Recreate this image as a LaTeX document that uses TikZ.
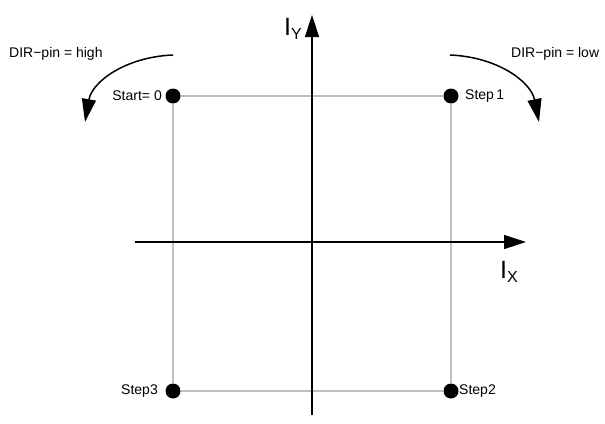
\documentclass[tikz,border=0pt]{standalone}
\usepackage{fontspec}
\setmainfont{Liberation Sans}
\usetikzlibrary{arrows.meta}
\newcommand{\axlabel}[2]{{\fontsize{25}{25}\selectfont #1}\raisebox{-4pt}{\fontsize{16}{16}\selectfont #2}}
\begin{document}
\begin{tikzpicture}[x=1pt,y=-1pt,
  axis/.style={line width=1.5pt,-{Triangle[length=22pt,width=14pt]}},
  turn/.style={line width=1.5pt,-{Triangle[length=23pt,width=14pt]}},
  grayline/.style={draw=black!25,line width=1.5pt},
  dot/.style={circle,fill=black,inner sep=0pt,minimum size=15pt},
  lbl/.style={inner sep=0pt,font=\fontsize{14}{16}\selectfont},
  axl/.style={inner sep=0pt,anchor=base west}]
\useasboundingbox (0,0) rectangle (605,423);
% points
\node[dot] (s0) at (173,96) {};
\node[dot] (s1) at (451,96) {};
\node[dot] (s2) at (451,391) {};
\node[dot] (s3) at (173,391) {};
\draw[grayline] (s0) -- (s1) -- (s2) -- (s3) -- (s0);
% axes
\coordinate (xl) at (135,242);
\coordinate (xr) at (526,242);
\coordinate (yb) at (312,415);
\coordinate (yt) at (312,15);
\draw[axis] (xl) -- (xr);
\draw[axis] (yb) -- (yt);
\node[axl] (iy) at (284,35) {\axlabel{I}{Y}};
\node[axl] (ix) at (500,278) {\axlabel{I}{X}};
% labels
\node[lbl,anchor=east] (l0) at (162,96) {Start= 0};
\node[lbl,anchor=west] (l1) at (465,96) {Step\,1};
\node[lbl,anchor=west] (l2) at (459,391) {Step2};
\node[lbl,anchor=east] (l3) at (158,391) {Step3};
\node[lbl,anchor=west] (dh) at (9,54) {DIR−pin = high};
\node[lbl,anchor=west] (dl) at (511,54) {DIR−pin = low};
% direction arrows
\coordinate (a1) at (173,55);
\coordinate (a2) at (85,122);
\coordinate (b1) at (450,55);
\coordinate (b2) at (539,122);
\draw[turn] (a1) .. controls (125,57) and (92,82) .. (a2);
\draw[turn] (b1) .. controls (498,57) and (531,82) .. (b2);
\end{tikzpicture}
\end{document}
